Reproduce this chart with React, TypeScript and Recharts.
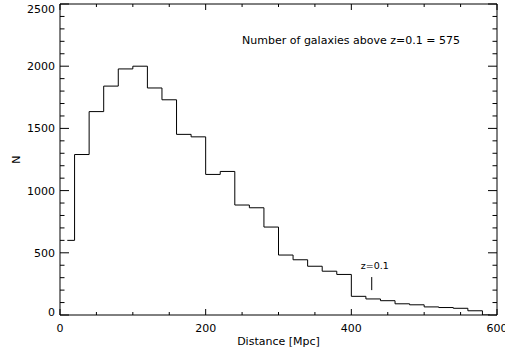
import React from 'react';
import {
  ComposedChart,
  Line,
  XAxis,
  YAxis,
  ReferenceArea,
  ReferenceLine,
  Customized,
} from 'recharts';

// bin centres (Mpc), 20 Mpc bins
const DIST = [
  10, 30, 50, 70, 90, 110, 130, 150, 170, 190,
  210, 230, 250, 270, 290, 310, 330, 350, 370, 390,
  410, 430, 450, 470, 490, 510, 530, 550, 570, 590,
];
const COUNTS = [
  600, 1290, 1635, 1840, 1978, 2000, 1825, 1730, 1452, 1432,
  1130, 1154, 884, 862, 707, 482, 444, 392, 352, 326,
  150, 129, 115, 90, 82, 65, 60, 54, 34, 0,
];

const X_TICKS = [0, 50, 100, 150, 200, 250, 300, 350, 400, 450, 500, 550, 600];
const X_LABELS = [0, 200, 400, 600];
const Y_TICKS = [
  0, 100, 200, 300, 400, 500, 600, 700, 800, 900, 1000, 1100, 1200, 1300,
  1400, 1500, 1600, 1700, 1800, 1900, 2000, 2100, 2200, 2300, 2400, 2500,
];
const Y_LABELS = [0, 500, 1000, 1500, 2000, 2500];

const Z_MARK = 428;
const Z_MARK_RANGE = [200, 305];
const TITLE = 'Number of galaxies above z=0.1 = 575';

const W = 505;
const H = 349;
const MARGIN = { top: 4, right: 8, bottom: 0, left: 0 };
const Y_AXIS_W = 60;
const X_AXIS_H = 34;
const PLOT_W = W - MARGIN.left - MARGIN.right - Y_AXIS_W;
const PLOT_H = H - MARGIN.top - MARGIN.bottom - X_AXIS_H;

const FONT = '"DejaVu Sans", sans-serif';

const data = DIST.map((d, i) => ({ d, n: COUNTS[i] }));

function XTick(props: any) {
  const { x, y, payload } = props;
  const major = X_LABELS.includes(payload.value);
  const len = major ? 6 : 3;
  return (
    <g>
      <line x1={x} x2={x} y1={y} y2={y - len} stroke="#000" />
      <line x1={x} x2={x} y1={y - PLOT_H} y2={y - PLOT_H + len} stroke="#000" />
      {major && (
        <text x={x} y={y + 17} textAnchor="middle" fontSize={11} fontFamily={FONT} fill="#000">
          {payload.value}
        </text>
      )}
    </g>
  );
}

function YTick(props: any) {
  const { x, y, payload } = props;
  const major = Y_LABELS.includes(payload.value);
  const len = major ? 9 : 4.5;
  // keep the end labels inside the frame, as the original does
  let dy = 4;
  if (payload.value === Y_LABELS[0]) dy = 1;
  if (payload.value === Y_LABELS[Y_LABELS.length - 1]) dy = 9;
  return (
    <g>
      <line x1={x} x2={x + len} y1={y} y2={y} stroke="#000" />
      <line x1={x + PLOT_W} x2={x + PLOT_W - len} y1={y} y2={y} stroke="#000" />
      {major && (
        <text x={x - 5} y={y + dy} textAnchor="end" fontSize={11} fontFamily={FONT} fill="#000">
          {payload.value}
        </text>
      )}
    </g>
  );
}

export default function App() {
  return (
    <div style={{ position: 'absolute', left: 0, top: 0, background: '#fff' }}>
      <ComposedChart width={W} height={H} data={data} margin={MARGIN}>
        <XAxis
          dataKey="d"
          type="number"
          domain={[0, 600]}
          ticks={X_TICKS}
          interval={0}
          height={X_AXIS_H}
          tickSize={0}
          tickMargin={0}
          tickLine={false}
          axisLine={false}
          tick={<XTick />}
          allowDataOverflow
          label={{
            value: 'Distance [Mpc]',
            position: 'insideBottom',
            offset: 4,
            fontSize: 11,
            fontFamily: FONT,
            fill: '#000',
          }}
        />
        <YAxis
          type="number"
          domain={[0, 2500]}
          ticks={Y_TICKS}
          interval={0}
          width={Y_AXIS_W}
          tickSize={0}
          tickMargin={0}
          tickLine={false}
          axisLine={false}
          tick={<YTick />}
          allowDataOverflow
          label={{
            content: (p: any) => {
              const vb = p.viewBox;
              const cx = vb.x + 16;
              const cy = vb.y + vb.height / 2;
              return (
                <text
                  x={cx}
                  y={cy}
                  transform={`rotate(-90 ${cx} ${cy})`}
                  textAnchor="middle"
                  dominantBaseline="central"
                  fontSize={11}
                  fontFamily={FONT}
                  fill="#000"
                >
                  N
                </text>
              );
            },
          }}
        />
        <ReferenceArea x1={0} x2={600} y1={0} y2={2500} fill="none" stroke="#000" strokeWidth={1} ifOverflow="visible" />
        <Line
          dataKey="n"
          type="step"
          stroke="#000"
          strokeWidth={1}
          dot={false}
          activeDot={false}
          isAnimationActive={false}
        />
        <ReferenceLine
          segment={[
            { x: Z_MARK, y: Z_MARK_RANGE[0] },
            { x: Z_MARK, y: Z_MARK_RANGE[1] },
          ]}
          stroke="#000"
          label={{
            value: 'z=0.1',
            position: 'top',
            offset: 8,
            dx: 3,
            fontSize: 9.5,
            fontFamily: FONT,
            fill: '#000',
          }}
        />
        <Customized
          component={() => (
            <text x={351} y={44} textAnchor="middle" fontSize={11} fontFamily={FONT} fill="#000">
              {TITLE}
            </text>
          )}
        />
      </ComposedChart>
    </div>
  );
}
